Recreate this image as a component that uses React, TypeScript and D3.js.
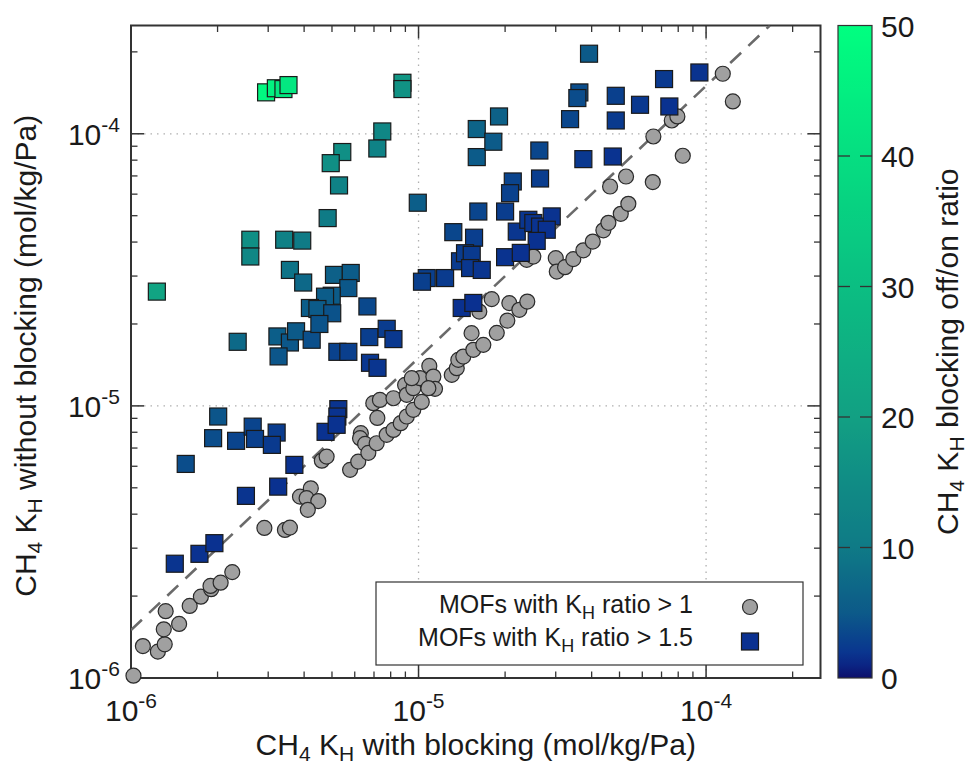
import React from "react";
import * as d3 from "d3";

// ---------- data ----------
// MOFs with K_H ratio > 1 (grey circles): x = K_H with blocking, y = K_H without blocking
const circleX = [
  1.02e-6, 1.10e-6, 1.24e-6, 1.31e-6, 1.30e-6, 1.32e-6, 1.47e-6, 1.60e-6, 1.75e-6, 1.90e-6,
  1.89e-6, 2.05e-6, 2.25e-6, 2.91e-6, 3.43e-6, 3.57e-6, 3.87e-6, 4.22e-6, 4.08e-6, 4.48e-6,
  4.12e-6, 4.61e-6, 4.79e-6, 5.78e-6, 6.17e-6, 6.30e-6, 6.26e-6, 6.52e-6, 6.69e-6, 7.15e-6,
  7.75e-6, 8.18e-6, 8.67e-6, 9.10e-6, 9.59e-6, 1.026e-5, 6.96e-6, 7.34e-6, 8.18e-6, 7.19e-6,
  8.98e-6, 9.10e-6, 9.59e-6, 1.012e-5, 9.47e-6, 1.090e-5, 1.126e-5, 1.141e-5, 1.082e-5, 1.305e-5,
  1.358e-5, 1.375e-5, 1.431e-5, 1.551e-5, 1.680e-5, 1.529e-5, 1.871e-5, 1.627e-5, 1.797e-5, 2.069e-5,
  2.242e-5, 2.389e-5, 2.036e-5, 2.378e-5, 2.507e-5, 3.001e-5, 3.025e-5, 3.233e-5, 3.453e-5, 3.743e-5,
  4.036e-5, 4.394e-5, 4.574e-5, 5.050e-5, 5.366e-5, 4.636e-5, 5.268e-5, 6.526e-5, 6.557e-5, 8.298e-5,
  7.598e-5, 7.947e-5, 1.143e-4, 1.239e-4,
];
const circleY = [
  1.02e-6, 1.31e-6, 1.25e-6, 1.33e-6, 1.51e-6, 1.76e-6, 1.58e-6, 1.84e-6, 1.99e-6, 2.12e-6,
  2.18e-6, 2.24e-6, 2.45e-6, 3.56e-6, 3.50e-6, 3.57e-6, 4.64e-6, 4.98e-6, 4.58e-6, 4.47e-6,
  4.15e-6, 6.29e-6, 6.51e-6, 5.82e-6, 6.24e-6, 7.94e-6, 7.61e-6, 7.25e-6, 6.72e-6, 7.29e-6,
  7.83e-6, 8.16e-6, 8.64e-6, 9.14e-6, 9.67e-6, 1.034e-5, 1.023e-5, 1.052e-5, 1.067e-5, 9.03e-6,
  1.194e-5, 1.098e-5, 1.162e-5, 1.264e-5, 1.264e-5, 1.403e-5, 1.282e-5, 1.155e-5, 1.162e-5, 1.300e-5,
  1.376e-5, 1.476e-5, 1.518e-5, 1.607e-5, 1.676e-5, 1.851e-5, 1.855e-5, 2.222e-5, 2.468e-5, 2.386e-5,
  2.254e-5, 2.418e-5, 2.059e-5, 3.442e-5, 3.539e-5, 3.491e-5, 3.116e-5, 3.235e-5, 3.462e-5, 3.730e-5,
  4.018e-5, 4.418e-5, 4.707e-5, 5.079e-5, 5.528e-5, 6.401e-5, 6.966e-5, 6.644e-5, 9.774e-5, 8.302e-5,
  1.119e-4, 1.158e-4, 1.662e-4, 1.315e-4,
];

// MOFs with K_H ratio > 1.5 (coloured squares)
const squareX = [
  1.42e-6, 1.73e-6, 1.95e-6, 1.23e-6, 2.35e-6, 3.23e-6, 3.57e-6, 3.75e-6, 4.25e-6, 3.26e-6,
  2.60e-6, 2.60e-6, 3.41e-6, 3.94e-6, 3.57e-6, 3.97e-6, 5.08e-6, 5.81e-6, 5.70e-6, 4.99e-6,
  4.73e-6, 4.19e-6, 4.45e-6, 5.01e-6, 4.52e-6, 6.64e-6, 6.74e-6, 7.75e-6, 8.18e-6, 5.22e-6,
  5.70e-6, 6.78e-6, 7.20e-6, 2.01e-6, 1.93e-6, 2.32e-6, 2.65e-6, 2.70e-6, 3.21e-6, 3.09e-6,
  1.55e-6, 3.70e-6, 2.51e-6, 3.25e-6, 4.75e-6, 5.26e-6, 5.22e-6, 5.19e-6, 2.95e-6, 3.19e-6,
  3.39e-6, 3.53e-6, 8.79e-6, 8.79e-6, 7.48e-6, 7.19e-6, 5.43e-6, 4.95e-6, 5.29e-6, 4.83e-6,
  9.94e-6, 1.068e-5, 1.028e-5, 1.237e-5, 1.321e-5, 1.560e-5, 1.394e-5, 1.451e-5, 1.531e-5, 1.511e-5,
  1.659e-5, 1.413e-5, 1.551e-5, 1.594e-5, 1.594e-5, 1.905e-5, 1.820e-5, 1.614e-5, 2.000e-5, 2.127e-5,
  2.081e-5, 2.196e-5, 2.409e-5, 2.507e-5, 2.646e-5, 2.906e-5, 2.792e-5, 2.576e-5, 2.000e-5, 2.268e-5,
  2.631e-5, 2.646e-5, 3.917e-5, 3.625e-5, 3.567e-5, 3.365e-5, 4.852e-5, 4.852e-5, 5.893e-5, 7.452e-5,
  7.143e-5, 9.478e-5, 3.743e-5, 4.737e-5,
];
const squareY = [
  2.63e-6, 2.86e-6, 3.13e-6, 2.63e-5, 1.72e-5, 1.80e-5, 1.71e-5, 1.88e-5, 1.75e-5, 1.52e-5,
  4.08e-5, 3.54e-5, 4.08e-5, 4.05e-5, 3.16e-5, 2.84e-5, 3.03e-5, 3.08e-5, 2.71e-5, 2.54e-5,
  2.52e-5, 2.29e-5, 2.27e-5, 2.19e-5, 2.00e-5, 2.32e-5, 1.79e-5, 1.92e-5, 1.76e-5, 1.58e-5,
  1.58e-5, 1.44e-5, 1.38e-5, 9.14e-6, 7.61e-6, 7.44e-6, 8.39e-6, 7.56e-6, 7.98e-6, 7.19e-6,
  6.12e-6, 6.07e-6, 4.67e-6, 5.05e-6, 8.03e-6, 9.73e-6, 9.14e-6, 8.52e-6, 1.42e-4, 1.47e-4,
  1.46e-4, 1.51e-4, 1.54e-4, 1.46e-4, 1.02e-4, 8.83e-5, 8.57e-5, 7.80e-5, 6.46e-5, 4.90e-5,
  5.58e-5, 2.95e-5, 2.86e-5, 2.95e-5, 4.35e-5, 4.15e-5, 3.40e-5, 3.64e-5, 3.59e-5, 3.21e-5,
  3.16e-5, 2.29e-5, 2.39e-5, 1.041e-4, 8.21e-5, 1.158e-4, 9.35e-5, 5.18e-5, 5.18e-5, 6.68e-5,
  6.05e-5, 4.37e-5, 4.83e-5, 4.70e-5, 4.56e-5, 4.97e-5, 4.44e-5, 4.04e-5, 3.52e-5, 3.65e-5,
  8.68e-5, 6.85e-5, 1.969e-4, 1.419e-4, 1.353e-4, 1.132e-4, 1.379e-4, 1.119e-4, 1.278e-4, 1.260e-4,
  1.589e-4, 1.680e-4, 8.07e-5, 8.25e-5,
];

const axisDomain = [1e-6, 2.5e-4];
const majorTicks = [1e-6, 1e-5, 1e-4];
const majorTickExponents = ["-6", "-5", "-4"];
const colorDomain = [0, 50];
const colorTicks = [0, 10, 20, 30, 40, 50];
const ratioThreshold = 1.5;
const legendLabels = ["1", "1.5"];

// ---------- style ----------
const W = 971;
const H = 767;
const PL = 131, PR = 820.5, PT = 25.5, PB = 678;
const CBL = 838, CBR = 872;
const FONT = "'Liberation Sans', Arial, Helvetica, sans-serif";
const TXT = "#1a1a1a";
const FS = 30;   // tick labels & titles
const FSS = 21;  // sub / superscripts
const paletteStops = [0, 1.5, 3, 5, 10, 15, 20, 30, 40, 50];
const paletteColors = ["#0d0f6b", "#0a3090", "#0a428d", "#0c5a89", "#0f7a86", "#108c85", "#12a083", "#0bbe82", "#05de81", "#00ff80"];

function KHTitle({ rest }: { rest: string }) {
  return (
    <>
      CH<tspan dy={6} fontSize={FSS}>4</tspan><tspan dy={-6}> K</tspan><tspan dy={6} fontSize={FSS}>H</tspan>
      <tspan dy={-6}>{rest}</tspan>
    </>
  );
}

export default function App() {
  const x = d3.scaleLog().domain(axisDomain).range([PL, PR]);
  const y = d3.scaleLog().domain(axisDomain).range([PB, PT]);
  const color = d3.scaleLinear<string>().domain(paletteStops).range(paletteColors).interpolate(d3.interpolateRgb).clamp(true);
  const cb = d3.scaleLinear().domain(colorDomain).range([PB, PT]);

  const isMajor = (v: number) => Math.abs(Math.log10(v) - Math.round(Math.log10(v))) < 1e-9;
  const minorX = x.ticks().filter((v) => !isMajor(v));
  const minorY = y.ticks().filter((v) => !isMajor(v));

  const lineEnd = axisDomain[1] / ratioThreshold;
  const linePts: [number, number][] = [axisDomain[0], lineEnd].map((v) => [v, v * ratioThreshold]);
  const dashed = d3.line<[number, number]>().x((d) => x(d[0])).y((d) => y(d[1]))(linePts) || "";

  const gradStops = d3.range(0, 51, 1);

  const circles = circleX.map((v, i) => ({ x: v, y: circleY[i] }));
  const squares = squareX.map((v, i) => ({ x: v, y: squareY[i] }));

  const MAJ = 13, MIN = 6.5;
  const SQ = 17, CR = 7.5;

  return (
    <svg width={W} height={H} style={{ position: "absolute", left: 0, top: 0, background: "#fff" }} fontFamily={FONT}>
      <defs>
        <clipPath id="plotclip">
          <rect x={PL} y={PT} width={PR - PL} height={PB - PT} />
        </clipPath>
        <linearGradient id="cbgrad" x1="0" y1="1" x2="0" y2="0">
          {gradStops.map((v) => (
            <stop key={v} offset={`${(v / colorDomain[1]) * 100}%`} stopColor={color(v)} />
          ))}
        </linearGradient>
      </defs>
      <rect x={0} y={0} width={W} height={H} fill="#fff" />

      {/* grid */}
      {majorTicks.slice(1).map((v) => (
        <g key={"g" + v}>
          <line x1={x(v)} x2={x(v)} y1={PT} y2={PB} stroke="#b0b0b0" strokeWidth={1.3} strokeDasharray="1.5,5" />
          <line x1={PL} x2={PR} y1={y(v)} y2={y(v)} stroke="#b0b0b0" strokeWidth={1.3} strokeDasharray="1.5,5" />
        </g>
      ))}

      {/* frame */}
      <rect x={PL} y={PT} width={PR - PL} height={PB - PT} fill="none" stroke="#333" strokeWidth={2} />

      {/* ticks */}
      {majorTicks.map((v) => (
        <g key={"mt" + v} stroke="#333" strokeWidth={1.5}>
          <line x1={x(v)} x2={x(v)} y1={PB} y2={PB - MAJ} />
          <line x1={x(v)} x2={x(v)} y1={PT} y2={PT + MAJ} />
          <line x1={PL} x2={PL + MAJ} y1={y(v)} y2={y(v)} />
          <line x1={PR} x2={PR - MAJ} y1={y(v)} y2={y(v)} />
        </g>
      ))}
      {minorX.map((v) => (
        <g key={"mx" + v} stroke="#333" strokeWidth={1.3}>
          <line x1={x(v)} x2={x(v)} y1={PB} y2={PB - MIN} />
          <line x1={x(v)} x2={x(v)} y1={PT} y2={PT + MIN} />
        </g>
      ))}
      {minorY.map((v) => (
        <g key={"my" + v} stroke="#333" strokeWidth={1.3}>
          <line x1={PL} x2={PL + MIN} y1={y(v)} y2={y(v)} />
          <line x1={PR} x2={PR - MIN} y1={y(v)} y2={y(v)} />
        </g>
      ))}

      {/* y = 1.5 x line */}
      <path d={dashed} clipPath="url(#plotclip)" fill="none" stroke="#6a6a6a" strokeWidth={2.6} strokeDasharray="15,10" />

      {/* circles */}
      {circles.map((d, i) => (
        <circle key={"c" + i} cx={x(d.x)} cy={y(d.y)} r={CR} fill="#a0a0a0" stroke="#2a2a2a" strokeWidth={1.2} />
      ))}
      {/* squares */}
      {squares.map((d, i) => (
        <rect key={"s" + i} x={x(d.x) - SQ / 2} y={y(d.y) - SQ / 2} width={SQ} height={SQ}
          fill={color(d.y / d.x)} stroke="#1a1a1a" strokeWidth={1.2} />
      ))}

      {/* tick labels */}
      {majorTicks.map((v, i) => (
        <text key={"xl" + v} x={x(v)} y={721} textAnchor="middle" fontSize={FS} fill={TXT}>
          10<tspan dy={-13} fontSize={FSS}>{majorTickExponents[i]}</tspan>
        </text>
      ))}
      {majorTicks.map((v, i) => (
        <text key={"yl" + v} x={120} y={y(v) + 11} textAnchor="end" fontSize={FS} fill={TXT}>
          10<tspan dy={-13} fontSize={FSS}>{majorTickExponents[i]}</tspan>
        </text>
      ))}

      {/* axis titles */}
      <text x={(PL + PR) / 2} y={755} textAnchor="middle" fontSize={FS} fill={TXT}>
        <KHTitle rest=" with blocking (mol/kg/Pa)" />
      </text>
      <text transform={`translate(36,${(PT + PB) / 2 + 4}) rotate(-90)`} textAnchor="middle" fontSize={FS} fill={TXT}>
        <KHTitle rest=" without blocking (mol/kg/Pa)" />
      </text>

      {/* colour bar */}
      <rect x={CBL} y={PT} width={CBR - CBL} height={PB - PT} fill="url(#cbgrad)" stroke="#333" strokeWidth={1.2} />
      {colorTicks.slice(1, -1).map((v) => (
        <g key={"cbt" + v} stroke="#333" strokeWidth={1.3}>
          <line x1={CBL} x2={CBL + 12} y1={cb(v)} y2={cb(v)} />
          <line x1={CBR} x2={CBR - 12} y1={cb(v)} y2={cb(v)} />
        </g>
      ))}
      {colorTicks.map((v) => (
        <text key={"cbl" + v} x={881} y={cb(v) + 11} fontSize={FS} fill={TXT}>{v}</text>
      ))}
      <text transform={`translate(958,${(PT + PB) / 2}) rotate(-90)`} textAnchor="middle" fontSize={FS} fill={TXT}>
        <KHTitle rest=" blocking off/on ratio" />
      </text>

      {/* legend */}
      <rect x={376} y={582} width={427} height={83} fill="#fff" stroke="#333" strokeWidth={1.2} />
      <text x={693} y={613} textAnchor="end" fontSize={25} fill={TXT}>
        MOFs with K<tspan dy={6} fontSize={18}>H</tspan><tspan dy={-6}> ratio &gt; {legendLabels[0]}</tspan>
      </text>
      <circle cx={750} cy={607} r={CR} fill="#a0a0a0" stroke="#2a2a2a" strokeWidth={1.2} />
      <text x={693} y={646} textAnchor="end" fontSize={25} fill={TXT}>
        MOFs with K<tspan dy={6} fontSize={18}>H</tspan><tspan dy={-6}> ratio &gt; {legendLabels[1]}</tspan>
      </text>
      <rect x={750 - SQ / 2} y={641.5 - SQ / 2} width={SQ} height={SQ} fill={color(ratioThreshold)} stroke="#1a1a1a" strokeWidth={1.2} />
    </svg>
  );
}
